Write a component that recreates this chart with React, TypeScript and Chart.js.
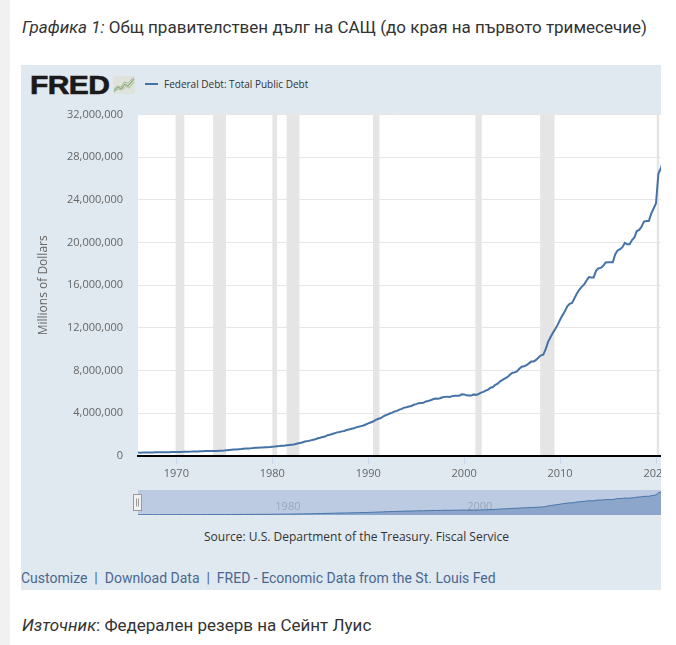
import React, { useEffect, useRef } from "react";
import { Chart, registerables } from "chart.js";

Chart.register(...registerables);

// ---------- DATA ----------
const FIRST_YEAR = 1966; // first quarter of the series (quarterly observations)

// Federal Debt: Total Public Debt, millions of dollars, quarterly
const debt1966to1979 = [
  320999, 316097, 324748, 328498,
  329319, 322893, 334174, 340000,
  341000, 347578, 356000, 358029,
  359000, 353720, 364000, 367144,
  372000, 372007, 380000, 388000,
  390000, 398130, 410000, 424131,
  427000, 427260, 437000, 449298,
  457000, 458142, 465000, 469898,
  474000, 475060, 483000, 492665,
  509000, 533189, 554000, 576649,
  600000, 620433, 635000, 653544,
  680000, 698840, 709000, 718943,
  740000, 771544, 780000, 789207,
  800000, 812000, 826519, 845116,
];
const debt1980to1999 = [
  873000, 884000, 907701, 930210,
  964000, 971000, 997855, 1028729,
  1061000, 1084000, 1142034, 1197073,
  1244000, 1319000, 1377210, 1410702,
  1463000, 1517000, 1572266, 1663000,
  1710000, 1774000, 1823103, 1945941,
  1986000, 2059000, 2125303, 2214000,
  2246000, 2310000, 2350277, 2431000,
  2487000, 2547000, 2602338, 2684000,
  2740000, 2799000, 2857431, 2953000,
  3052000, 3143000, 3233313, 3364000,
  3465000, 3538000, 3665303, 3801000,
  3881000, 3985000, 4064621, 4177000,
  4230000, 4352000, 4411489, 4535000,
  4575000, 4645000, 4692750, 4800000,
  4864000, 4951000, 4973983, 4988000,
  5117000, 5161000, 5224811, 5323000,
  5380000, 5376000, 5413146, 5502000,
  5542000, 5548000, 5526193, 5614000,
  5651000, 5638000, 5656271, 5776000,
];
const debt2000to2021 = [
  5773000, 5686000, 5674178, 5662000,
  5773000, 5726000, 5807463, 5943000,
  6006000, 6126000, 6228236, 6405000,
  6460000, 6670000, 6783231, 6998000,
  7131000, 7274000, 7379053, 7596000,
  7777000, 7836000, 7932710, 8170000,
  8371000, 8420000, 8506974, 8680000,
  8849000, 8867000, 9007653, 9229000,
  9437000, 9492000, 10024725, 10699000,
  11127000, 11545000, 11909829, 12311000,
  12773000, 13201000, 13561623, 14025000,
  14270000, 14343000, 14790340, 15223000,
  15582000, 15856000, 16066241, 16433000,
  16771000, 16738000, 16738184, 17352000,
  17601000, 17632000, 17824071, 18141000,
  18152000, 18152000, 18150618, 18922000,
  19264000, 19381000, 19573445, 19976000,
  19846000, 19845000, 20244900, 20493000,
  21089000, 21195000, 21516058, 21974000,
  22028000, 22023000, 22719402, 23201000,
  23686000, 26477000, 26945391, 27748000,
  28133000,
];

const xTickYears = [1970, 1980, 1990, 2000, 2010, 2020];
const yTickValues = [0, 4000000, 8000000, 12000000, 16000000, 20000000, 24000000, 28000000, 32000000];
const navLabelYears = [1980, 2000];

// NBER recessions (fractional years)
const recessionStart = [1969.92, 1973.83, 1980.0, 1981.5, 1990.5, 2001.17, 2007.92, 2020.08];
const recessionEnd = [1970.83, 1975.17, 1980.5, 1982.83, 1991.17, 2001.83, 2009.42, 2020.33];

const X_MIN = 1966;
const X_MAX = 2020.52;
const Y_MAX = 32000000;
const NAV_Y_MAX = 28300000;

const seriesLabel = "Federal Debt: Total Public Debt";

// ---------- STYLE ----------
const PANEL_BG = "#e1e9f0";
const LINE = "#4572a7";
const TICK_FONT = { family: "'Open Sans', sans-serif", size: 11 };

function buildPoints() {
  const all = [...debt1966to1979, ...debt1980to1999, ...debt2000to2021];
  return all.map((v, i) => ({ x: FIRST_YEAR + i / 4, y: v }));
}

const plotBgPlugin = {
  id: "plotBg",
  beforeDraw(chart: any) {
    const { ctx, chartArea } = chart;
    ctx.save();
    ctx.fillStyle = "#ffffff";
    ctx.fillRect(chartArea.left, chartArea.top, chartArea.right - chartArea.left, chartArea.bottom - chartArea.top);
    ctx.restore();
  },
};

const recessionPlugin = {
  id: "recessions",
  beforeDatasetsDraw(chart: any) {
    const { ctx, chartArea, scales } = chart;
    ctx.save();
    ctx.beginPath();
    ctx.rect(chartArea.left, chartArea.top, chartArea.right - chartArea.left, chartArea.bottom - chartArea.top);
    ctx.clip();
    ctx.fillStyle = "#e5e5e5";
    recessionStart.forEach((s, i) => {
      const x1 = scales.x.getPixelForValue(s);
      const x2 = scales.x.getPixelForValue(recessionEnd[i]);
      ctx.fillRect(x1, chartArea.top, Math.max(1, x2 - x1), chartArea.bottom - chartArea.top - 1);
    });
    ctx.restore();
  },
};

const navPlugin = {
  id: "navigatorDecor",
  beforeDatasetsDraw(chart: any) {
    const { ctx, chartArea, scales } = chart;
    ctx.save();
    ctx.fillStyle = "rgba(102,133,194,0.3)";
    ctx.fillRect(chartArea.left, chartArea.top - 1, chartArea.right - chartArea.left, chartArea.bottom - chartArea.top + 1);
    ctx.fillStyle = "#9aa6b8";
    ctx.font = "11px 'Open Sans', sans-serif";
    ctx.textAlign = "left";
    ctx.textBaseline = "middle";
    navLabelYears.forEach((yr) => {
      const x = scales.x.getPixelForValue(yr);
      ctx.fillText(String(yr), x + 3, chartArea.bottom - 8);
    });
    ctx.restore();
  },
  afterDatasetsDraw(chart: any) {
    const { ctx, chartArea } = chart;
    ctx.save();
    const hx = chartArea.left - 4.5;
    const hy = chartArea.top + 3.5;
    ctx.fillStyle = "#f2f2f2";
    ctx.strokeStyle = "#999999";
    ctx.lineWidth = 1;
    ctx.fillRect(hx, hy, 8, 16);
    ctx.strokeRect(hx, hy, 8, 16);
    ctx.beginPath();
    ctx.moveTo(hx + 3, hy + 4);
    ctx.lineTo(hx + 3, hy + 12);
    ctx.moveTo(hx + 5, hy + 4);
    ctx.lineTo(hx + 5, hy + 12);
    ctx.stroke();
    ctx.restore();
  },
};

function FredIcon() {
  return (
    <svg width="22" height="18" viewBox="0 0 22 18" style={{ display: "block" }}>
      <rect x="0" y="0" width="22" height="18" fill="#dfe3dc" />
      <polyline points="1,15 5,11 8,13 12,8 15,10 21,3" fill="none" stroke="#8db07a" strokeWidth="1.3" />
      <polyline points="1,16 5,13 9,14 13,10 16,12 21,6" fill="none" stroke="#b5c4a8" strokeWidth="1.1" />
      <polyline points="1,13 4,10 8,11 11,6 15,7 21,1" fill="none" stroke="#a9b8a0" strokeWidth="0.9" />
    </svg>
  );
}

export default function App() {
  const mainRef = useRef<HTMLCanvasElement | null>(null);
  const navRef = useRef<HTMLCanvasElement | null>(null);

  useEffect(() => {
    const points = buildPoints();
    const main = new Chart(mainRef.current as HTMLCanvasElement, {
      type: "line",
      data: {
        datasets: [
          {
            label: seriesLabel,
            data: points,
            borderColor: LINE,
            borderWidth: 2,
            pointRadius: 0,
            fill: false,
            tension: 0,
          },
        ],
      },
      options: {
        animation: false,
        responsive: false,
        maintainAspectRatio: false,
        layout: { padding: { top: 8, right: 40, bottom: 3, left: 0 } },
        plugins: { legend: { display: false }, tooltip: { enabled: false } },
        scales: {
          x: {
            type: "linear",
            min: X_MIN,
            max: X_MAX,
            afterBuildTicks: (s: any) => {
              s.ticks = xTickYears.map((v) => ({ value: v }));
            },
            afterFit: (s: any) => {
              s.height = 30;
            },
            ticks: {
              callback: (v: any) => String(v),
              font: TICK_FONT,
              color: "#666666",
              padding: 3,
              maxRotation: 0,
              autoSkip: false,
            },
            grid: { drawOnChartArea: false, drawTicks: true, tickLength: 8, color: "#ccd6eb" },
            border: { display: true, color: "#000000", width: 2 },
          },
          y: {
            type: "linear",
            min: 0,
            max: Y_MAX,
            afterBuildTicks: (s: any) => {
              s.ticks = yTickValues.map((v) => ({ value: v }));
            },
            afterFit: (s: any) => {
              s.width = 117;
            },
            ticks: {
              callback: (v: any) => Number(v).toLocaleString("en-US"),
              font: TICK_FONT,
              color: "#666666",
              padding: 15,
            },
            grid: { color: "#e6e6e6", drawTicks: false },
            border: { display: false },
            title: {
              display: true,
              text: "Millions of Dollars",
              font: { family: "'Open Sans', sans-serif", size: 12 },
              color: "#666666",
              padding: { top: 15, bottom: 0 },
            },
          },
        },
      } as any,
      plugins: [plotBgPlugin, recessionPlugin],
    });

    const nav = new Chart(navRef.current as HTMLCanvasElement, {
      type: "line",
      data: {
        datasets: [
          {
            data: points,
            borderColor: LINE,
            borderWidth: 1,
            backgroundColor: "rgba(69,114,167,0.42)",
            fill: "origin",
            pointRadius: 0,
            tension: 0,
          },
        ],
      },
      options: {
        animation: false,
        responsive: false,
        maintainAspectRatio: false,
        layout: { padding: { top: 5, right: 40, bottom: 5, left: 117 } },
        plugins: { legend: { display: false }, tooltip: { enabled: false } },
        scales: {
          x: { type: "linear", min: X_MIN, max: X_MAX, display: false },
          y: { min: 0, max: NAV_Y_MAX, display: false },
        },
      } as any,
      plugins: [navPlugin],
    });

    return () => {
      main.destroy();
      nav.destroy();
    };
  }, []);

  const roboto = "Roboto, 'Noto Sans', sans-serif";
  const openSans = "'Open Sans', sans-serif";

  return (
    <div style={{ position: "absolute", left: 0, top: 0, width: 676, height: 645, background: "#ffffff", overflow: "hidden" }}>
      <div style={{ position: "absolute", left: 0, top: 0, width: 10, height: 645, background: "#f1f1f1" }} />
      <div
        style={{
          position: "absolute",
          left: 22,
          top: 16,
          fontFamily: roboto,
          fontSize: 17,
          color: "#333333",
          whiteSpace: "nowrap",
          lineHeight: "22px",
        }}
      >
        <i>Графика 1:</i> Общ правителствен дълг на САЩ (до края на първото тримесечие)
      </div>

      <div style={{ position: "absolute", left: 21, top: 65, width: 640, height: 525, background: PANEL_BG, overflow: "hidden" }}>
        {/* FRED logo */}
        <div
          style={{
            position: "absolute",
            left: 9,
            top: 5,
            fontFamily: "'Liberation Sans', Arial, sans-serif",
            fontWeight: 900,
            fontSize: 25,
            letterSpacing: -0.5,
            color: "#1a1a1a",
            WebkitTextStroke: "0.6px #1a1a1a",
            lineHeight: "30px",
            transform: "scaleX(1.2)",
            transformOrigin: "left center",
          }}
        >
          FRED
        </div>
        <div style={{ position: "absolute", left: 92, top: 11 }}>
          <FredIcon />
        </div>
        <div style={{ position: "absolute", left: 124, top: 18, width: 13, height: 2, background: LINE }} />
        <div
          style={{
            position: "absolute",
            left: 143,
            top: 12,
            fontFamily: openSans,
            fontSize: 11,
            color: "#333333",
            whiteSpace: "nowrap",
            lineHeight: "14px",
            transform: "scaleX(0.91)",
            transformOrigin: "left center",
          }}
        >
          {seriesLabel}
        </div>

        <canvas ref={mainRef} width={680} height={396} style={{ position: "absolute", left: 0, top: 28, width: 680, height: 396 }} />
        <canvas ref={navRef} width={680} height={34} style={{ position: "absolute", left: 0, top: 421, width: 680, height: 34 }} />

        <div
          style={{
            position: "absolute",
            left: 183,
            top: 465,
            fontFamily: openSans,
            fontSize: 12,
            color: "#333333",
            whiteSpace: "nowrap",
            lineHeight: "14px",
          }}
        >
          Source: U.S. Department of the Treasury. Fiscal Service
        </div>

        <div
          style={{
            position: "absolute",
            left: 0,
            top: 505,
            fontFamily: roboto,
            fontSize: 14,
            color: "#4a6791",
            whiteSpace: "nowrap",
            lineHeight: "16px",
          }}
        >
          Customize&nbsp; |&nbsp; Download Data&nbsp; |&nbsp; FRED - Economic Data from the St. Louis Fed
        </div>
      </div>

      <div
        style={{
          position: "absolute",
          left: 22,
          top: 614,
          fontFamily: roboto,
          fontSize: 17,
          color: "#333333",
          whiteSpace: "nowrap",
          lineHeight: "22px",
        }}
      >
        <i>Източник</i>: Федерален резерв на Сейнт Луис
      </div>
    </div>
  );
}
